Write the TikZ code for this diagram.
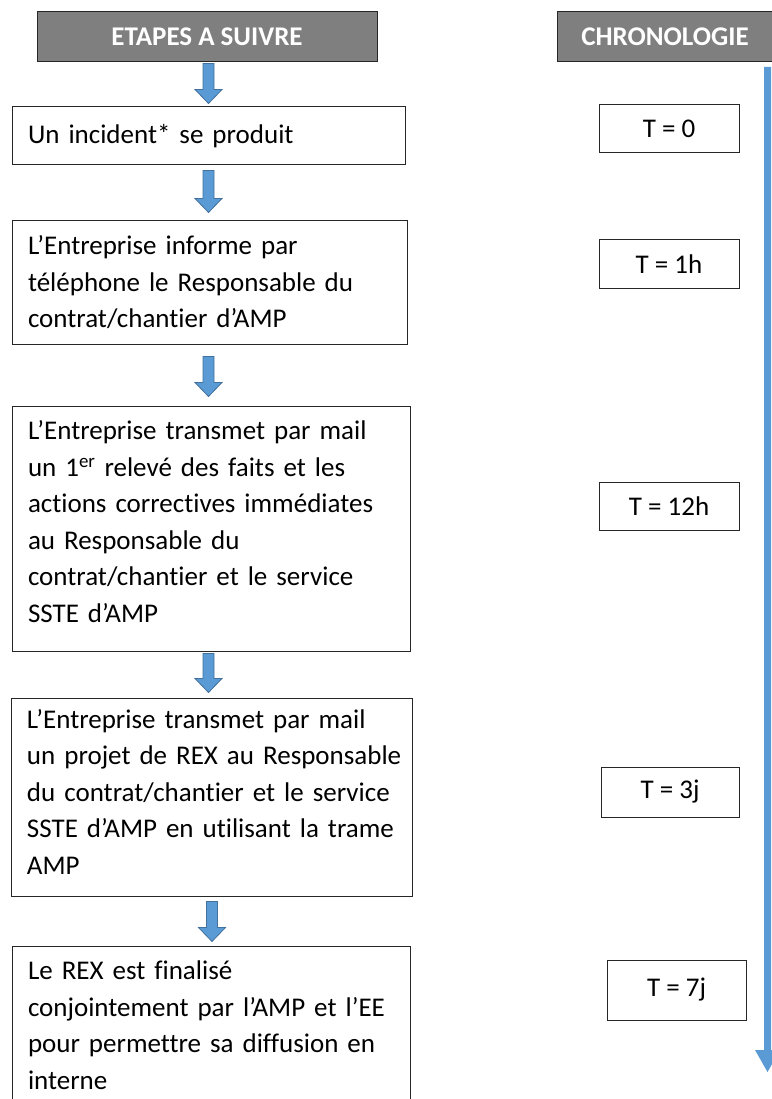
\documentclass[tikz,border=0pt]{standalone}
\usepackage{fontspec}
\setmainfont{Carlito}[Ligatures={NoCommon}]
\usetikzlibrary{calc}
\definecolor{hdrgray}{HTML}{7F7F7F}
\definecolor{arrowblue}{HTML}{5B9BD5}
\definecolor{arrowedge}{HTML}{41719C}
\definecolor{boxline}{HTML}{262626}
\newcommand{\blockarrow}[5]{%
 \path[fill=arrowblue, draw=arrowedge, line width=0.8pt] let \p1=(#1.south), \p2=(#2.north) in
 (#3pt-5.5pt,\y1-#4pt) -- (#3pt+5.5pt,\y1-#4pt) -- (#3pt+5.5pt,\y2+#5pt+14pt) -- (#3pt+13.5pt,\y2+#5pt+14pt) -- (#3pt,\y2+#5pt) -- (#3pt-13.5pt,\y2+#5pt+14pt) -- (#3pt-5.5pt,\y2+#5pt+14pt) -- cycle;}
\begin{document}
\begin{tikzpicture}[x=1pt,y=-1pt,
 hdr/.style={draw=boxline, fill=hdrgray, line width=1pt, text=white, font=\bfseries\fontsize{27}{30}\selectfont, inner sep=0pt},
 stepbox/.style={draw=boxline, line width=1pt, inner xsep=16pt, inner ysep=0pt, align=left, font=\fontsize{27}{36.5}\selectfont},
 tbox/.style={draw=boxline, line width=1pt, inner sep=0pt, font=\fontsize{27}{32}\selectfont}]
\useasboundingbox (0,0) rectangle (771,1099);
\fill[white] (0,0) rectangle (771,1099);

\node[hdr, minimum width=340pt, minimum height=50pt] (h1) at (207,37) {ETAPES A SUIVRE};
\node[hdr, minimum width=216pt, minimum height=50pt] (h2) at (665,37) {CHRONOLOGIE};

\node[stepbox, minimum width=393pt, minimum height=58pt, text width=361pt] (s1) at (208.5,136) {\mbox{Un incident* se produit}};
\node[stepbox, minimum width=395pt, minimum height=123pt, text width=363pt] (s2) at (209.5,282.5) {\mbox{L’Entreprise informe par}\\\mbox{téléphone le Responsable du}\\\mbox{contrat/chantier d’AMP}};
\node[stepbox, minimum width=398pt, minimum height=245pt, text width=366pt] (s3) at (211,528.5) {\mbox{L’Entreprise transmet par mail}\\\mbox{un 1\textsuperscript{er} relevé des faits et les}\\\mbox{actions correctives immédiates}\\\mbox{au Responsable du}\\\mbox{contrat/chantier et le service}\\\mbox{SSTE d’AMP}\rule[-14pt]{0pt}{1pt}};
\node[stepbox, minimum width=401pt, minimum height=198pt, text width=369pt] (s4) at (211.5,797) {\mbox{L’Entreprise transmet par mail}\\\mbox{un projet de REX au Responsable}\\\mbox{du contrat/chantier et le service}\\\mbox{SSTE d’AMP en utilisant la trame}\\\mbox{AMP}\rule[-11pt]{0pt}{1pt}};
\node[stepbox, minimum width=398pt, minimum height=158pt, text width=366pt] (s5) at (211,1025) {\mbox{Le REX est finalisé}\\\mbox{conjointement par l’AMP et l’EE}\\\mbox{pour permettre sa diffusion en}\\\mbox{interne}};

\node[tbox, minimum width=140pt, minimum height=48pt] (t0) at (669,129) {T = 0};
\node[tbox, minimum width=140pt, minimum height=48pt] (t1) at (669,264) {T = 1h};
\node[tbox, minimum width=140pt, minimum height=48pt] (t2) at (669,506) {T = 12h};
\node[tbox, minimum width=138pt, minimum height=50pt] (t3) at (670,792) {T = 3j};
\node[tbox, minimum width=139pt, minimum height=60pt] (t4) at (676.5,990) {T = 7j};

\blockarrow{h1}{s1}{208.5}{1}{3}
\blockarrow{s1}{s2}{208.5}{5}{8}
\blockarrow{s2}{s3}{208.5}{12}{9}
\blockarrow{s3}{s4}{208.5}{2}{5}
\blockarrow{s4}{s5}{212}{5}{4}

\coordinate (tltop) at (767.5,67);
\coordinate (tlend) at (767.5,1072);
\path[fill=arrowblue] let \p1=(tltop), \p2=(tlend) in
 (\x1-3.5pt,\y1) -- (\x1+3.5pt,\y1) -- (\x1+3.5pt,\y2+22pt) -- (\x1+12.5pt,\y2+22pt) -- (\x2,\y2) -- (\x1-12.5pt,\y2+22pt) -- (\x1-3.5pt,\y2+22pt) -- cycle;
\end{tikzpicture}
\end{document}
